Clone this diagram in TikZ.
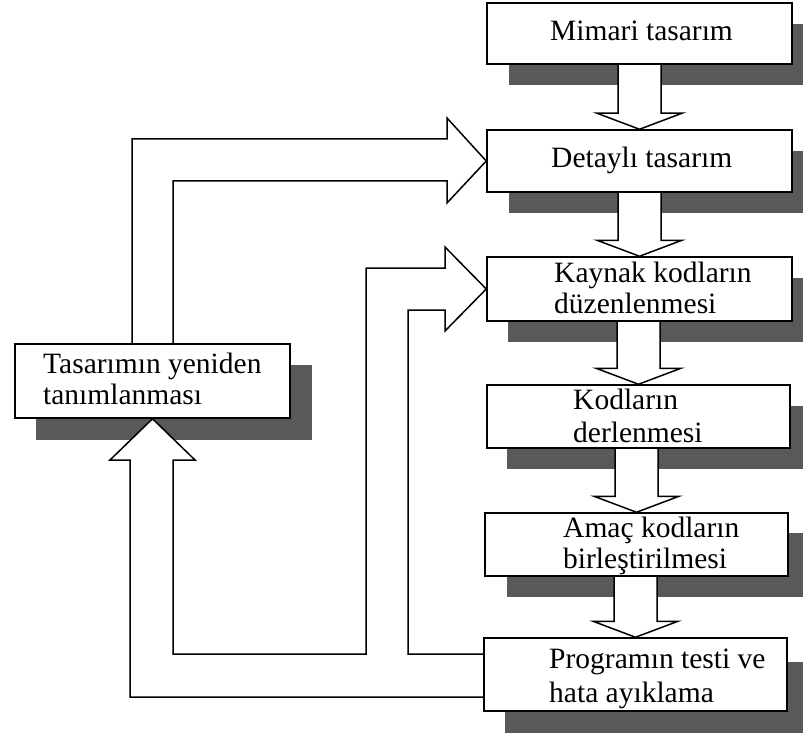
\documentclass[tikz,border=0pt]{standalone}
\usepackage{fontspec}
\setmainfont{Liberation Serif}
\usetikzlibrary{calc}
\pgfdeclarelayer{shadowlayer}
\pgfdeclarelayer{arrowlayer}
\pgfsetlayers{shadowlayer,arrowlayer,main}
\begin{document}
\begin{tikzpicture}[x=1pt,y=-1pt,
  box/.style={draw=black, fill=white, line width=1.5pt, rectangle, inner sep=0pt},
  shade/.style={fill=black!65, draw=none},
  harrow/.style={draw=black, fill=white, line width=1.5pt, line join=miter},
  lbl/.style={anchor=base west, inner sep=0pt, font=\fontsize{29.5}{31}\selectfont}]
\useasboundingbox (0,0) rectangle (803,738);

% boxes
\node[box, minimum width=305pt, minimum height=61pt] (mimari) at (639.5,33.5) {};
\node[box, minimum width=305pt, minimum height=62pt] (detay)  at (639.5,161) {};
\node[box, minimum width=305pt, minimum height=64pt] (kaynak) at (639.5,289) {};
\node[box, minimum width=303pt, minimum height=63pt] (kodlar) at (638.5,416.5) {};
\node[box, minimum width=303pt, minimum height=63pt] (amac)   at (636.5,544.5) {};
\node[box, minimum width=303pt, minimum height=73pt] (prog)   at (635.5,674.5) {};
\node[box, minimum width=275pt, minimum height=74pt] (tasar)  at (152.5,381) {};

% texts
\node[lbl] (t1)  at (550,41)  {Mimari tasarım};
\node[lbl] (t2)  at (551,168) {Detaylı tasarım};
\node[lbl] (t3a) at (554,282) {Kaynak kodların};
\node[lbl] (t3b) at (554,313) {düzenlenmesi};
\node[lbl] (t4a) at (573,409) {Kodların};
\node[lbl] (t4b) at (573,442) {derlenmesi};
\node[lbl] (t5a) at (563,537) {Amaç kodların};
\node[lbl] (t5b) at (563,568) {birleştirilmesi};
\node[lbl] (t6a) at (549,668) {Programın testi ve};
\node[lbl] (t6b) at (549,702) {hata ayıklama};
\node[lbl] (t7a) at (43,373)  {Tasarımın yeniden};
\node[lbl] (t7b) at (43,404)  {tanımlanması};

% shadows
\begin{pgfonlayer}{shadowlayer}
\fill[shade] (509,24) rectangle (803,85);
\fill[shade] (509,151) rectangle (803,213);
\fill[shade] (508,278) rectangle (803,342);
\fill[shade] (507,406) rectangle (803,469);
\fill[shade] (507,533) rectangle (803,597);
\fill[shade] (505,662) rectangle (803,733);
\fill[shade] (36,365) rectangle (312,440);
\end{pgfonlayer}

% hollow arrows
\begin{pgfonlayer}{arrowlayer}
\foreach \a/\b in {mimari/detay, detay/kaynak, kaynak/kodlar, kodlar/amac, amac/prog} {
  \draw[harrow] ($(\b.north |- \a.south)+(-21.5,0)$) -- ($(\b.north)+(-21.5,-16)$)
     -- ($(\b.north)+(-42.5,-16)$) -- (\b.north) -- ($(\b.north)+(42.5,-16)$)
     -- ($(\b.north)+(21.5,-16)$) -- ($(\b.north |- \a.south)+(21.5,0)$);
}
% to Detaylı tasarım from Tasarımın yeniden tanımlanması
\draw[harrow] (132,344) -- (132,139) -- (447,139) -- (447,118) -- (detay.west)
   -- (447,203) -- (447,181) -- (173,181) -- (173,344);
% from Programın testi to Kaynak and to Tasarımın
\coordinate (pa) at (484,654);
\coordinate (pb) at (484,697);
\draw[harrow] (pa) -- (408,654) -- (408,310) -- (445,310) -- (445,331) -- (kaynak.west)
   -- (445,247) -- (445,268) -- (366,268) -- (366,654) -- (173,654) -- (173,460)
   -- (195,460) -- (tasar.south) -- (110,460) -- (130,460) -- (130,697) -- (pb);
\end{pgfonlayer}
\end{tikzpicture}
\end{document}
